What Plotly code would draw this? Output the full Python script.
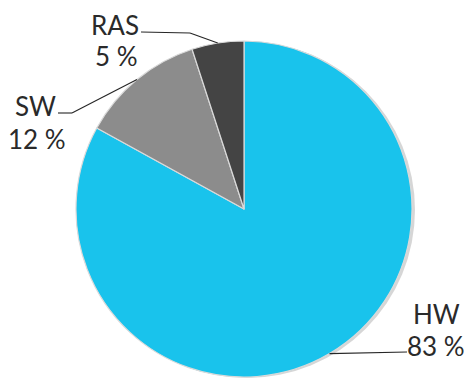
import math
import plotly.graph_objects as go

# Share of each category (percent)
labels = ["HW", "SW", "RAS"]
values = [83, 12, 5]
colors = ["#19C3EC", "#8C8C8C", "#444444"]

W, H = 464, 378
CX, CY, R = 244, 209, 168          # pie centre and radius in pixels

# centres (px) of the name line and the value line of each label
name_pos = {"HW": (436, 314), "SW": (35, 106), "RAS": (115, 25)}
value_pos = {"HW": (436, 346), "SW": (37, 139), "RAS": (116, 56)}
# elbow and outer end of each leader line (px)
elbow = {"HW": (407, 352), "SW": (72, 113), "RAS": (190, 33)}
line_end = {"HW": (407, 352), "SW": (58, 113), "RAS": (141, 32)}

FONT = dict(family="Lato, sans-serif", size=26, color="#2A2A2A")


def px(x, y):
    return x / W, 1 - y / H


def dom(cx, cy, r):
    return dict(x=[max(0, (cx - r) / W), min(1, (cx + r) / W)],
                y=[max(0, 1 - (cy + r) / H), min(1, 1 - (cy - r) / H)])


fig = go.Figure()

# soft drop shadow beneath the pie
fig.add_trace(go.Pie(
    values=[1], labels=["shadow"], sort=False,
    marker=dict(colors=["rgba(0,0,0,0.16)"], line=dict(width=0)),
    textinfo="none", hoverinfo="skip", showlegend=False,
    domain=dom(CX + 3, CY + 1, R),
))

fig.add_trace(go.Pie(
    labels=labels, values=values, sort=False, direction="clockwise",
    rotation=0,
    marker=dict(colors=colors, line=dict(color="#DADADA", width=1.2)),
    textinfo="none", showlegend=False,
    domain=dom(CX, CY, R),
))

# leader lines from the middle of each slice's arc, plus labels
total = sum(values)
cum = 0
for lab, v in zip(labels, values):
    mid = (cum + v / 2) / total * 2 * math.pi
    cum += v
    ax, ay = CX + R * math.sin(mid), CY - R * math.cos(mid)
    ex, ey = elbow[lab]
    lx, ly = line_end[lab]
    for (x0, y0), (x1, y1) in [((ax, ay), (ex, ey)), ((ex, ey), (lx, ly))]:
        p0, p1 = px(x0, y0), px(x1, y1)
        fig.add_shape(type="line", xref="paper", yref="paper",
                      x0=p0[0], y0=p0[1], x1=p1[0], y1=p1[1],
                      line=dict(color="#262626", width=1.1))
    for text, pos in [(lab, name_pos[lab]), (f"{v} %", value_pos[lab])]:
        tx, ty = px(*pos)
        fig.add_annotation(xref="paper", yref="paper", x=tx, y=ty,
                           text=text, showarrow=False,
                           xanchor="center", yanchor="middle", font=FONT)

fig.update_layout(
    width=W, height=H, margin=dict(l=0, r=0, t=0, b=0),
    paper_bgcolor="white", plot_bgcolor="white",
)

fig.write_html("out.html")
